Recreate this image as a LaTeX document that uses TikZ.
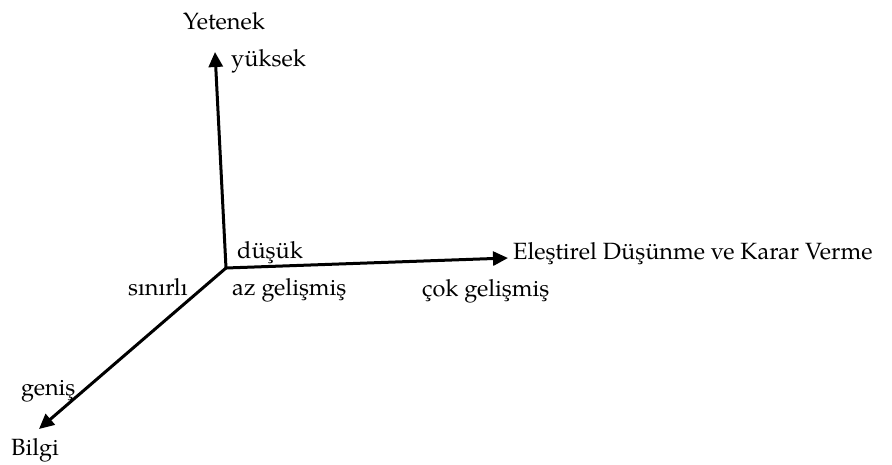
\documentclass[tikz,border=0pt]{standalone}
\usepackage{fontspec}
\setmainfont{TeX Gyre Pagella}
\usetikzlibrary{arrows.meta}
\begin{document}
\begin{tikzpicture}[x=1pt,y=-1pt,
  axis/.style={line width=3pt,-{Triangle[length=15pt,width=14pt]}},
  lbl/.style={inner sep=0pt,anchor=base west,font=\fontsize{23.5}{26}\selectfont}]
\useasboundingbox (0,0) rectangle (892,464);
% origin and the three axis ends
\coordinate (o) at (226,268);
\coordinate (up) at (215,52);
\coordinate (right) at (508,258);
\coordinate (down) at (39,429);
\draw[axis] (o) -- (up);
\draw[axis] (o) -- (right);
\draw[axis] (o) -- (down);
% axis names and scale labels
\node[lbl] (yet) at (183,29) {Yetenek};
\node[lbl] (yuk) at (231,66) {yüksek};
\node[lbl] (dus) at (237,258) {düşük};
\node[lbl] (edk) at (513,259) {Eleştirel Düşünme ve Karar Verme};
\node[lbl] (az) at (232,295) {az gelişmiş};
\node[lbl] (cok) at (422,296) {çok gelişmiş};
\node[lbl] (sin) at (128,295) {sınırlı};
\node[lbl] (gen) at (21,395) {geniş};
\node[lbl] (bil) at (11,455) {Bilgi};
\end{tikzpicture}
\end{document}
